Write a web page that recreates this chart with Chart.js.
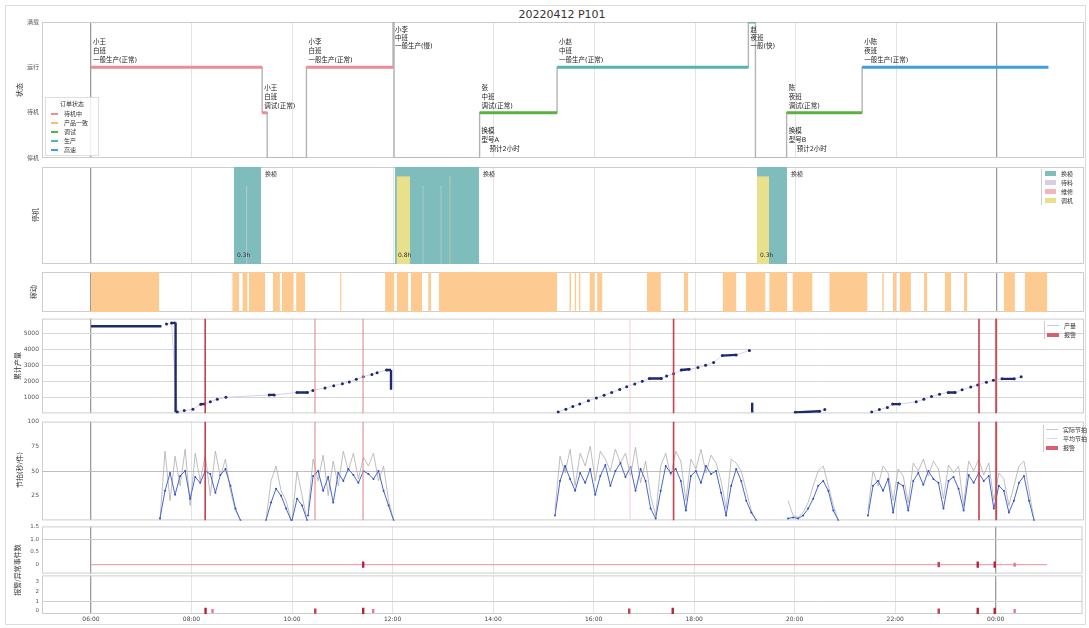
<!DOCTYPE html>
<html><head><meta charset="utf-8">
<script src="https://cdn.jsdelivr.net/npm/chart.js@4.4.1/dist/chart.umd.min.js"></script>
<style>
body{margin:0;background:#fff;width:1089px;height:628px;overflow:hidden;position:relative;font-family:"DejaVu Sans","Noto Sans CJK SC",sans-serif;}
canvas{position:absolute;left:0;}
.frame{position:absolute;left:5px;top:5px;width:1079px;height:618px;border:1px solid #dcdcdc;}
.ttl{position:absolute;top:8px;left:0;width:1124px;text-align:center;font-size:11px;color:#333;}
.yt{position:absolute;font-size:7px;color:#333;transform:translate(-50%,-50%) rotate(-90deg);white-space:nowrap;}
.lg{position:absolute;font-size:6px;line-height:9px;color:#333;z-index:5;}
.lg .it{display:flex;align-items:center;height:9px;}
.lg .sw{display:inline-block;margin-right:5px;}
</style></head>
<body>
<div class="frame"></div>
<div class="ttl">20220412 P101</div>
<script>
// ---------- shared x axis ----------
const xTickPos=[0,1,2,3,4,5,6,7,8,9];
const xTickLabels=['06:00','08:00','10:00','12:00','14:00','16:00','18:00','20:00','22:00','00:00'];
const darkTicks=[0,9];

// ---------- panel 1 : state steps ----------
const stateStart=[0,1.70,1.75,2.14,3.00,3.01,3.86,4.63,6.53,6.60,6.91,7.66];
const stateEnd  =[1.70,1.75,2.14,3.00,3.01,3.86,4.63,6.53,6.60,6.91,7.66,9.51];
const stateLevel=[2,1,0,2,3,0,1,2,3,0,1,2];
const stateCat  =[0,0,-1,0,0,-1,2,3,3,-1,2,4];
const stateCats=['待机中','产品一致','调试','生产','高速'];
const stateTickLabels=['停机','待机','运行','满载'];
const stateNotesTop=[["小王","白班","一般生产(正常)"],["小王","白班","调试(正常)"],null,["小李","白班","一般生产(正常)"],["小李","中班","一般生产(慢)"],null,["张","中班","调试(正常)"],["小赵","中班","一般生产(正常)"],["赵","夜班","一般(快)"],null,["陈","夜班","调试(正常)"],["小陈","夜班","一般生产(正常)"]];
const stateNotesBottom=[null,null,null,null,null,null,["换模","型号A","预计2小时"],null,null,null,["换模","型号B","预计2小时"],null];

// ---------- panel 2 : stops ----------
const stopStart=[1.420,3.020,6.616,1.542,3.293,3.472,3.035,3.561,6.616];
const stopEnd  =[1.689,3.854,6.914,1.552,3.303,3.482,3.169,3.571,6.735];
const stopType =[0,0,0,1,1,1,3,3,3];
const stopTypes=['换模','待料','维修','调机'];
const stopNoteTop=['换模','换模','换模'];
const stopNoteBottom=['0.3h','0.8h','0.3h'];

// ---------- panel 3 : running intervals ----------
const busyStart=[0,1.403,1.503,1.569,1.807,1.893,2.037,2.474,2.921,3.038,3.176,3.349,3.454,4.751,4.803,4.845,4.952,5.027,5.521,5.890,6.274,6.505,6.737,6.968,7.334,7.859,7.963,8.031,8.274,8.480,8.670,9.067,9.275];
const busyEnd  =[0.679,1.473,1.555,1.730,1.876,2.014,2.128,2.489,3.014,3.152,3.290,3.377,4.632,4.769,4.821,4.863,5.004,5.080,5.661,5.932,6.412,6.701,6.917,7.168,7.714,7.876,7.997,8.145,8.308,8.543,8.705,9.178,9.500];

// ---------- panel 4 : cumulative output ----------
const prodT=[0.75,0.80,0.857,0.926,1.012,1.09,1.13,1.185,1.254,1.340,1.77,1.82,2.045,2.149,2.204,2.324,2.411,2.497,2.566,2.635,2.704,2.790,2.842,2.935,3.0,
 4.641,4.717,4.786,4.855,4.941,5.020,5.097,5.172,5.252,5.321,5.401,5.476,5.546,5.666,5.718,5.787,5.863,5.942,6.029,6.105,6.185,6.271,6.409,6.540,6.55,
 6.996,7.237,7.289,7.3,
 7.755,7.831,7.911,7.963,8.031,8.197,8.273,8.349,8.429,8.515,8.584,8.653,8.739,8.808,8.895,8.964,9.050,9.171,9.240];
const prodV=[5560,5620,92,177,257,570,590,728,875,1003,1150,1150,1303,1303,1431,1578,1725,1853,1957,2128,2281,2428,2532,2703,null,
 89,259,428,579,791,961,1131,1301,1492,1662,1832,2003,2173,2173,2322,2470,2705,2747,2853,3002,3172,3597,3640,3916,null,
 66,132,238,null,
 89,238,365,579,579,728,875,1046,1195,1301,1301,1471,1641,1768,1939,2066,2151,2151,2279];
const runX0=[0,0.80,0.84,0.84,1.09,1.77,2.045,2.935,2.98,5.546,5.863,6.271,6.568,6.996,7.963,8.515,9.050];
const runX1=[0.70,0.84,0.84,0.857,1.13,1.82,2.149,2.98,2.98,5.666,5.942,6.409,6.568,7.237,8.031,8.584,9.171];
const runV0=[5420,5620,5650,90,570,1150,1303,2703,2703,2173,2705,3597,670,66,579,1301,2151];
const runV1=[5420,5650,90,92,590,1150,1303,2703,1474,2173,2747,3640,60,132,579,1301,2151];
const prodTicks=[1000,2000,3000,4000,5000];

// ---------- alarms ----------
const alarmT=[1.134,2.225,2.702,5.354,5.787,8.821,8.990];
const alarmSev=[2,1,1,0,2,2,2];

// ---------- panel 5 : cycle time ----------
const cycleBlockStart=[0.685,1.738,1.997,2.156,4.609,6.924,7.718];
const cycleStep=0.05;
const cycleBlue=[
 [2,30,48,26,45,50,22,44,38,50,47,28,46,52,35,12,0],
 [0,18,32,25,12,0],
 [0,22,15,0],
 [5,45,50,30,44,18,48,40,52,46,38,50,47,42,50,30,15,0],
 [5,40,55,42,30,48,38,52,26,45,56,35,50,58,44,54,30,52,40,12,2,30,55,48,52,40,10,45,50,38,55,47,50,28,5,35,52,40,20,8,0],
 [2,3,2,5,12,22,35,40,30,10,0],
 [5,35,40,30,42,8,38,35,10,40,48,36,50,42,38,12,40,44,32,10,46,38,48,40,45,12,35,30,8,20,38,45,20,0]];
const cycleGray=[
 [0,70,20,65,35,72,15,68,40,66,25,70,45,62,30,10,0],
 [0,40,55,30,20,0],
 [0,50,25,0],
 [10,62,40,66,25,60,35,70,50,68,42,64,55,68,40,55,20,0],
 [10,65,48,72,35,68,55,75,40,70,62,50,72,58,68,45,74,38,60,25,5,55,68,45,70,60,20,62,52,72,48,66,58,40,12,62,58,50,30,10,0],
 [20,5,3,8,18,35,50,55,35,15,0],
 [10,50,35,55,48,20,52,45,18,58,50,62,45,60,52,22,56,48,55,15,60,50,62,46,58,20,48,42,15,35,55,60,30,0]];
const cycleTicks=[25,50,75,100];

// ---------- panel 6 : events ----------
const evLineT=[0,9.51], evLineV=[0,0];
const evUpT=[2.708,8.433,8.821,8.990,9.188];
const evUpSize=[2,1,2,2,0];
const evLowT=[1.140,1.209,2.231,2.708,2.807,5.354,5.787,8.433,8.821,8.990,9.188];
const evLowSize=[2,0,1,2,0,1,2,1,2,2,0];

// ================= styles / helpers =================
const FONT='"DejaVu Sans","Noto Sans CJK SC",sans-serif';
const X_MIN=-0.487, X_MAX=9.864;
const stateColors=['#f08a96','#f3c26b','#5cb040','#52b5b5','#3d9ee0'];
const stopColors=['#7fbdbd','#d6cde2','#f4b4bc','#e8e08a'];
const stopHeight=[1,0.8,0.85,0.9];
const sevColor=['#f5cfd2','#e4939b','#c8404c'];
const sevWidth=[1,1.2,1.6];
const evColor=['#e07a90','#c83a55','#b8203c'];
const evRadius=[2,2.6,3.2];

function mk(top,h){const c=document.createElement('canvas');c.width=1089;c.height=h;c.style.top=top+'px';c.style.width='1089px';c.style.height=h+'px';document.body.appendChild(c);return c;}
function xScale(show){
 return {type:'linear',min:X_MIN,max:X_MAX,
  afterBuildTicks(s){s.ticks=xTickPos.map(v=>({value:v}));},
  afterFit(s){s.height=show?14:0;},
  grid:{drawTicks:false,color:c=>(c.tick&&darkTicks.includes(c.tick.value))?'#9c9c9c':'#e3e3e3',lineWidth:c=>(c.tick&&darkTicks.includes(c.tick.value))?1.3:1},
  border:{display:false},
  ticks:{display:show,padding:2,font:{size:6,family:FONT},color:'#444',maxRotation:0,autoSkip:false,callback:(v,i)=>xTickLabels[i]}};
}
function yScale(o){
 const base={afterFit(s){s.width=34;},border:{display:false},grid:{display:false,drawTicks:false},
  ticks:{display:false,font:{size:6,family:FONT},color:'#555',padding:3}};
 return Object.assign(base,o);
}
const boxPlugin={id:'box',beforeDatasetsDraw(ch){const a=ch.chartArea,c=ch.ctx;c.save();c.strokeStyle='#cdcdcd';c.lineWidth=1;c.strokeRect(a.left+0.5,a.top+0.5,a.right-a.left-1,a.bottom-a.top-1);c.restore();}};
function opts(pt,pb,y,showX){
 return {responsive:false,animation:false,maintainAspectRatio:false,
  layout:{padding:{left:8,right:5,top:pt,bottom:pb}},
  plugins:{legend:{display:false},tooltip:{enabled:false}},
  scales:{x:xScale(showX),y:y}};
}
function intervals(s,e,h){const d=[];for(let i=0;i<s.length;i++){d.push({x:s[i],y:h},{x:e[i],y:h},{x:e[i],y:null});}return d;}
function fillDs(data,color){return {data,backgroundColor:color,borderColor:color,borderWidth:0.6,fill:'origin',pointRadius:0,spanGaps:false};}
function alarmDs(ymin,ymax){const d=[];alarmT.forEach(t=>{d.push({x:t,y:ymin},{x:t,y:ymax},{x:t,y:null});});
 return {data:d,pointRadius:0,borderColor:'#c8404c',spanGaps:false,
  segment:{borderColor:c=>sevColor[alarmSev[Math.floor(c.p0DataIndex/3)]],borderWidth:c=>sevWidth[alarmSev[Math.floor(c.p0DataIndex/3)]]}};}

// ================= Panel 1 =================
(function(){
 const conn=[];stateStart.forEach((s,i)=>{conn.push({x:s,y:stateLevel[i]},{x:stateEnd[i],y:stateLevel[i]});});
 const ds=[];
 stateCats.forEach((name,k)=>{const d=[];stateStart.forEach((s,i)=>{if(stateCat[i]===k){d.push({x:s,y:stateLevel[i]},{x:stateEnd[i],y:stateLevel[i]},{x:stateEnd[i],y:null});}});
  ds.push({label:name,data:d,borderColor:stateColors[k],borderWidth:3,pointRadius:0,spanGaps:false});});
 ds.push({label:'conn',data:conn,borderColor:'#b3b3b3',borderWidth:1.4,pointRadius:0});
 const notes={id:'notes',afterDatasetsDraw(ch){const c=ch.ctx,x=ch.scales.x,y=ch.scales.y;c.save();c.fillStyle='#222';c.font='6.5px '+FONT;c.textBaseline='alphabetic';
  stateStart.forEach((s,i)=>{const px=x.getPixelForValue(s)+2,py=y.getPixelForValue(stateLevel[i]);
   const t=stateNotesTop[i];
   if(t){t.forEach((ln,k)=>{let yy;if(stateLevel[i]===3){yy=py+10+k*8;}else{yy=py-5-(t.length-1-k)*9;}c.fillText(ln,px,yy);});}
   const b=stateNotesBottom[i];
   if(b){b.forEach((ln,k)=>{c.fillText(ln,px+(k===2?8:0),py+20+k*9);});}
  });c.restore();}};
 new Chart(mk(14,152),{type:'line',data:{datasets:ds},
  options:opts(8,8,yScale({min:0,max:3,afterBuildTicks(s){s.ticks=[0,1,2,3].map(v=>({value:v}));},ticks:{display:true,font:{size:6,family:FONT},color:'#555',padding:3,callback:v=>stateTickLabels[v]}}),false),
  plugins:[boxPlugin,notes]});
})();

// ================= Panel 2 =================
(function(){
 const ds=[];
 [3,2,1,0].forEach(k=>{const s=[],e=[];stopStart.forEach((v,i)=>{if(stopType[i]===k){s.push(v);e.push(stopEnd[i]);}});
  ds.push(fillDs(intervals(s,e,stopHeight[k]),stopColors[k]));});
 const notes={id:'n2',afterDatasetsDraw(ch){const c=ch.ctx,x=ch.scales.x,a=ch.chartArea;c.save();c.fillStyle='#333';c.font='6px '+FONT;
  let j=0;stopStart.forEach((s,i)=>{if(stopType[i]===0){c.fillText(stopNoteTop[j],x.getPixelForValue(stopEnd[i])+4,a.top+9);c.fillText(stopNoteBottom[j],x.getPixelForValue(s)+3,a.bottom-7);j++;}});c.restore();}};
 new Chart(mk(161,109),{type:'line',data:{datasets:ds},options:opts(6,6,yScale({min:0,max:1}),false),plugins:[boxPlugin,notes]});
})();

// ================= Panel 3 =================
new Chart(mk(266,52),{type:'line',data:{datasets:[fillDs(intervals(busyStart,busyEnd,1),'#fdcb92')]},
 options:opts(6,6,yScale({min:0,max:1}),false),plugins:[boxPlugin]});

// ================= Panel 4 =================
(function(){
 const P4MAX=5900;
 const rd=prodT.map((t,i)=>({x:t,y:prodV[i]}));
 const rn=[];runX0.forEach((x0,i)=>{rn.push({x:x0,y:runV0[i]},{x:runX1[i],y:runV1[i]},{x:runX1[i],y:null});});
 const ds=[
  alarmDs(0,P4MAX),
  {data:rn,borderColor:'#1f2a6e',borderWidth:2.4,pointRadius:0,spanGaps:false},
  {data:rd,borderColor:'#d5d5ea',borderWidth:1,pointRadius:1.5,pointBackgroundColor:'#1f2a6e',pointBorderWidth:0,spanGaps:false}];
 new Chart(mk(312,108),{type:'line',data:{datasets:ds},
  options:opts(6,6,yScale({min:0,max:P4MAX,afterBuildTicks(s){s.ticks=prodTicks.map(v=>({value:v}));},grid:{display:true,drawTicks:false,color:'#d6d6d6'},ticks:{display:true,font:{size:6,family:FONT},color:'#555',padding:3,callback:v=>String(v)}}),false),
  plugins:[boxPlugin]});
})();

// ================= Panel 5 =================
(function(){
 function build(arr){const d=[];cycleBlockStart.forEach((s,b)=>{arr[b].forEach((v,i)=>d.push({x:s+i*cycleStep,y:v}));d.push({x:s+arr[b].length*cycleStep,y:null});});return d;}
 const ds=[
  alarmDs(0,100),
  {data:build(cycleBlue),borderColor:'#4a66cc',borderWidth:1,pointRadius:1,pointBackgroundColor:'#2f4fc0',pointBorderWidth:0,spanGaps:false},
  {data:build(cycleGray),borderColor:'#adadad',borderWidth:0.8,pointRadius:0,spanGaps:false}];
 new Chart(mk(415,112),{type:'line',data:{datasets:ds},
  options:opts(6,6,yScale({min:0,max:100,afterBuildTicks(s){s.ticks=cycleTicks.map(v=>({value:v}));},grid:{display:true,drawTicks:false,color:c=>c.tick&&c.tick.value===50?'#bdbdbd':'rgba(0,0,0,0)'},ticks:{display:true,font:{size:6,family:FONT},color:'#555',padding:3}}),false),
  plugins:[boxPlugin]});
})();

// ================= Panel 6 =================
(function(){
 const up=evUpT.map(t=>({x:t,y:0}));
 const low=evLowT.map(t=>({x:t,y:0}));
 const mDs=(d,sz)=>({type:'scatter',data:d,showLine:false,pointStyle:'line',pointRotation:90,pointRadius:sz.map(s=>evRadius[s]),pointBorderWidth:2.4,pointBorderColor:sz.map(s=>evColor[s]),pointBackgroundColor:sz.map(s=>evColor[s])});
 new Chart(mk(520,60),{type:'line',data:{datasets:[mDs(up,evUpSize),{data:evLineT.map((t,i)=>({x:t,y:evLineV[i]})),borderColor:'#e8a6ae',borderWidth:1.2,pointRadius:0}]},
  options:opts(6,6,yScale({min:-0.35,max:1.5,afterBuildTicks(s){s.ticks=[0,0.5,1,1.5].map(v=>({value:v}));},grid:{display:true,drawTicks:false,color:c=>c.tick&&c.tick.value===1?'#cfcfcf':'rgba(0,0,0,0)'},ticks:{display:true,font:{size:5.5,family:FONT},color:'#555',padding:3}}),false),
  plugins:[boxPlugin]});
 new Chart(mk(569,59),{type:'line',data:{datasets:[mDs(low,evLowSize)]},
  options:opts(6,0,yScale({min:-0.3,max:3.6,afterBuildTicks(s){s.ticks=[0,1,2,3].map(v=>({value:v}));},grid:{display:true,drawTicks:false,color:c=>c.tick&&c.tick.value===1?'#cfcfcf':'rgba(0,0,0,0)'},ticks:{display:true,font:{size:5.5,family:FONT},color:'#555',padding:3}}),true),
  plugins:[boxPlugin]});
})();

// ================= HTML titles & legends =================
function addDiv(cls,html,style){const d=document.createElement('div');d.className=cls;d.innerHTML=html;Object.assign(d.style,style);document.body.appendChild(d);return d;}
addDiv('yt','状态',{left:'19px',top:'90px'});
addDiv('yt','停机',{left:'35px',top:'215px'});
addDiv('yt','稼动',{left:'33px',top:'292px'});
addDiv('yt','累计产量',{left:'17px',top:'366px'});
addDiv('yt','节拍(秒/件)',{left:'19px',top:'470px'});
addDiv('yt','报警/异常事件数',{left:'17px',top:'570px'});

let h='<div style="text-align:center;margin-bottom:1px">订单状态</div>';
stateCats.forEach((n,k)=>{h+='<div class="it"><span class="sw" style="width:7px;height:2px;background:'+stateColors[k]+';margin-left:3px;margin-right:6px"></span>'+n+'</div>';});
addDiv('lg',h,{left:'45px',top:'97px',width:'48px',padding:'1px 2px',border:'1px solid #dedede',background:'rgba(255,255,255,0.85)'});

h='';stopTypes.forEach((n,k)=>{h+='<div class="it"><span class="sw" style="width:11px;height:5px;background:'+stopColors[k]+'"></span>'+n+'</div>';});
addDiv('lg',h,{left:'1041px',top:'169px',paddingLeft:'3px',borderLeft:'1px solid #ccc'});

h='<div class="it"><span class="sw" style="width:12px;height:1px;background:#c8cce8"></span>产量</div><div class="it"><span class="sw" style="width:12px;height:4px;background:#d9606a"></span>报警</div>';
addDiv('lg',h,{left:'1044px',top:'321px',paddingLeft:'2px',borderLeft:'1px solid #ccc'});

h='<div class="it"><span class="sw" style="width:12px;height:1px;background:#c8c8c8"></span>实际节拍</div><div class="it"><span class="sw" style="width:12px;height:1px;background:#d8dcef"></span>平均节拍</div><div class="it"><span class="sw" style="width:12px;height:4px;background:#d9606a"></span>报警</div>';
addDiv('lg',h,{left:'1043px',top:'425px',paddingLeft:'2px',borderLeft:'1px solid #ccc'});
</script>
</body></html>
